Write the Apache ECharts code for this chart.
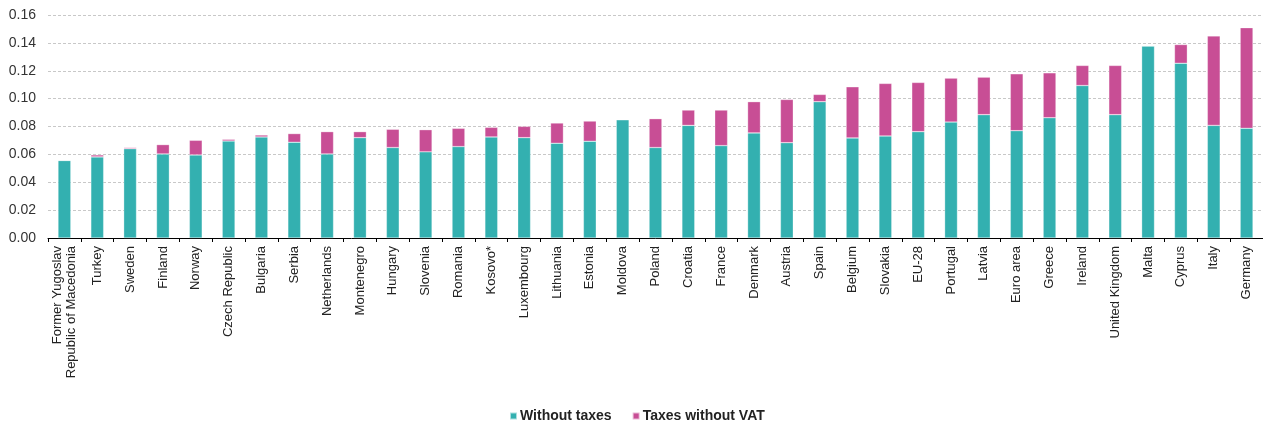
<!DOCTYPE html>
<html>
<head>
<meta charset="utf-8">
<script src="https://cdn.jsdelivr.net/npm/echarts@6/dist/echarts.min.js"></script>
<style>
html,body{margin:0;padding:0;background:#fff;}
#chart{width:1263px;height:423px;}
</style>
</head>
<body>
<div id="chart"></div>
<script>
const categories = ["Former Yugoslav\nRepublic of Macedonia","Turkey","Sweden","Finland","Norway","Czech Republic","Bulgaria","Serbia","Netherlands","Montenegro","Hungary","Slovenia","Romania","Kosovo*","Luxembourg","Lithuania","Estonia","Moldova","Poland","Croatia","France","Denmark","Austria","Spain","Belgium","Slovakia","EU-28","Portugal","Latvia","Euro area","Greece","Ireland","United Kingdom","Malta","Cyprus","Italy","Germany"];
const withoutTaxes = [0.0556,0.0582,0.0641,0.0603,0.0596,0.0696,0.0725,0.0687,0.0603,0.0720,0.0649,0.0618,0.0656,0.0725,0.0720,0.0680,0.0694,0.0849,0.0649,0.0808,0.0663,0.0754,0.0684,0.0978,0.0718,0.0732,0.0763,0.0832,0.0885,0.0770,0.0863,0.1094,0.0885,0.1378,0.1254,0.0808,0.0787];
const taxesWithoutVAT = [0.0000,0.0014,0.0008,0.0067,0.0105,0.0012,0.0014,0.0062,0.0160,0.0043,0.0131,0.0159,0.0131,0.0069,0.0081,0.0145,0.0145,0.0000,0.0207,0.0110,0.0255,0.0224,0.0310,0.0052,0.0367,0.0377,0.0353,0.0315,0.0269,0.0408,0.0322,0.0144,0.0353,0.0000,0.0134,0.0642,0.0722];
const yTicks = {min:0, max:0.16, interval:0.02};

const chart = echarts.init(document.getElementById('chart'));
chart.setOption({
  animation:false,
  textStyle:{fontFamily:'Liberation Sans, Arial, sans-serif'},
  grid:{left:48,right:0,top:15,bottom:185,containLabel:false},
  legend:{
    bottom:0,left:509,padding:0,itemWidth:7,itemHeight:7,itemGap:20,icon:'rect',
    textStyle:{fontSize:14,fontWeight:'bold',color:'#222',padding:[0,0,0,-2]},
    data:['Without taxes','Taxes without VAT']
  },
  xAxis:{
    type:'category',data:categories,
    axisLine:{lineStyle:{color:'#000',width:1}},
    axisTick:{show:true,length:4,lineStyle:{color:'#000'}},
    axisLabel:{rotate:90,interval:0,fontSize:13,color:'#222',margin:8,lineHeight:14}
  },
  yAxis:{
    type:'value',min:yTicks.min,max:yTicks.max,interval:yTicks.interval,
    axisLine:{show:false},axisTick:{show:false},
    axisLabel:{fontSize:14,color:'#333',margin:12,formatter:v=>v.toFixed(2)},
    splitLine:{lineStyle:{color:'#c8c8c8',type:[3,2],width:1}}
  },
  series:[
    {name:'Without taxes',type:'bar',stack:'a',data:withoutTaxes,barWidth:'39%',
      itemStyle:{color:'#33b0b0',borderColor:'rgba(255,255,255,0.6)',borderWidth:0.5}},
    {name:'Taxes without VAT',type:'bar',stack:'a',data:taxesWithoutVAT,barWidth:'39%',
      itemStyle:{color:'#c84e95',borderColor:'rgba(255,255,255,0.6)',borderWidth:0.5}}
  ]
});
</script>
</body>
</html>
